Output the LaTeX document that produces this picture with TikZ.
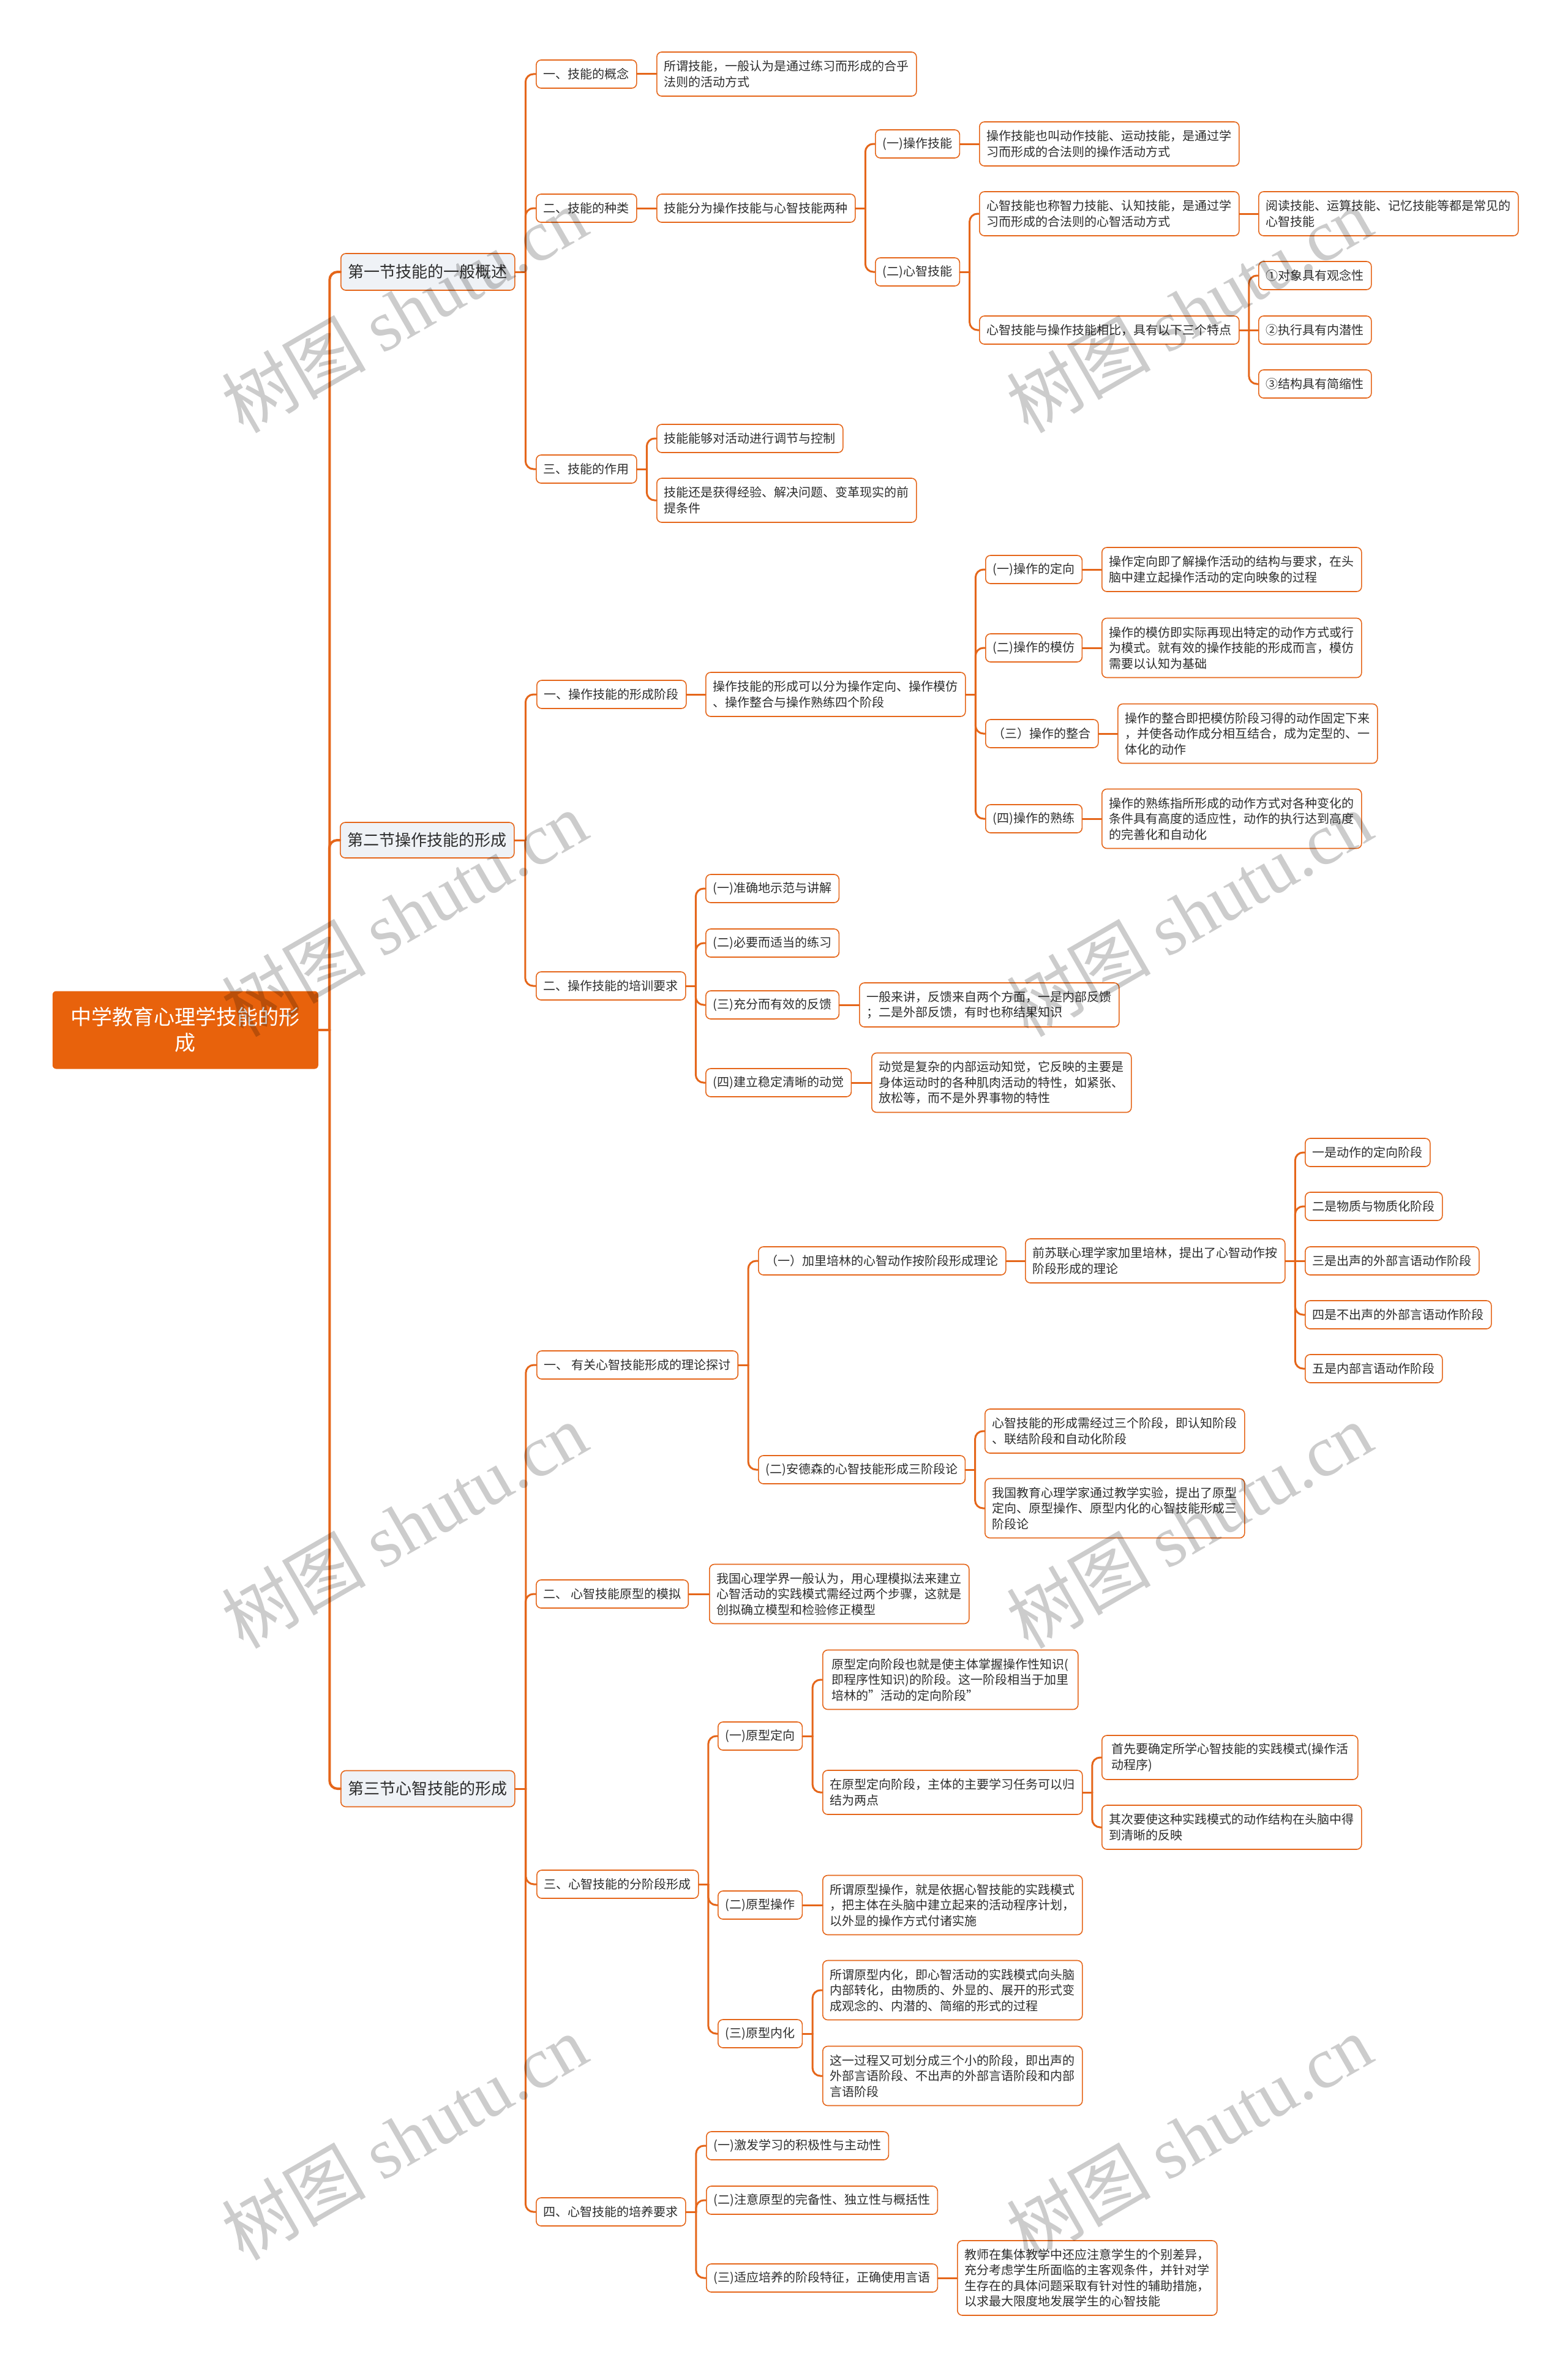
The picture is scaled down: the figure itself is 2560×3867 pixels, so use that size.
\documentclass[tikz,border=0pt]{standalone}
\usepackage{fontspec}
\setmainfont{Noto Sans CJK SC}
\newfontfamily\wmlatin{Liberation Serif}
\usetikzlibrary{calc}
\definecolor{org}{RGB}{229,102,26}
\definecolor{secfill}{RGB}{239,242,246}
\definecolor{rootfill}{RGB}{232,98,12}
\definecolor{txt}{RGB}{45,45,45}
\tikzset{
 box/.style={draw=org, line width=1.6pt, rounded corners=8pt, fill=white, anchor=west, align=left, inner xsep=12pt, inner ysep=0pt, text=txt, font=\fontsize{20}{25.5}\selectfont},
 secbox/.style={box, fill=secfill, font=\fontsize{26}{32}\selectfont},
 rootbox/.style={box, draw=none, fill=rootfill, text=white, align=center, rounded corners=6pt, font=\fontsize{34}{42}\selectfont},
 conn/.style={draw=org, line width=3pt, line cap=round},
 trunk/.style={conn, line width=4pt},
 wm/.style={text=black, text opacity=0.2, font=\fontsize{118}{120}\selectfont, rotate=30, inner sep=0pt}
}
\newcommand\bx[7][box]{\node[#1, minimum width=#5pt, minimum height=#6pt] (#2) at (#3,#4) {#7};}
% branching connector: stub, vertical, rounded corner into child
\newcommand\lnk[3][conn]{%
 \path ($(#2.east)!.5!(#3.west)$) coordinate (m);
 \draw[#1] (#2.east) -- (#2.east -| m);
 \draw[#1, rounded corners=13pt] (#2.east -| m) |- (#3.west);}
% straight connector (same height)
\newcommand\st[3][conn]{\draw[#1] (#2.east) -- (#3.west);}
\begin{document}
\begin{tikzpicture}[x=1pt,y=-1pt]
\useasboundingbox (0,0) rectangle (2560,3867);
\fill[white] (0,0) rectangle (2560,3867);

% root and sections
\bx[rootbox]{root}{85}{1682}{434}{127}{中学教育心理学技能的形\\成}
\bx[secbox]{s1}{556}{444}{282}{60}{第一节技能的一般概述}
\bx[secbox]{s2}{555}{1372}{283}{58}{第二节操作技能的形成}
\bx[secbox]{s3}{556}{2921}{282}{59}{第三节心智技能的形成}

% section 1
\bx{a1}{875}{121}{159}{46}{一、技能的概念}
\bx{a1t}{1072}{121}{419}{72}{所谓技能，一般认为是通过练习而形成的合乎\\法则的活动方式}
\bx{a2}{875}{340}{159}{46}{二、技能的种类}
\bx{a2t}{1072}{340}{319}{46}{技能分为操作技能与心智技能两种}
\bx{b1}{1429}{235}{132}{46}{(一)操作技能}
\bx{b1t}{1599}{235}{417}{72}{操作技能也叫动作技能、运动技能，是通过学\\习而形成的合法则的操作活动方式}
\bx{b2}{1429}{444}{132}{46}{(二)心智技能}
\bx{b2a}{1599}{349}{417}{72}{心智技能也称智力技能、认知技能，是通过学\\习而形成的合法则的心智活动方式}
\bx{b2aa}{2055}{349}{418}{72}{阅读技能、运算技能、记忆技能等都是常见的\\心智技能}
\bx{b2b}{1599}{539}{417}{46}{心智技能与操作技能相比，具有以下三个特点}
\bx{c1}{2055}{450}{179}{46}{①对象具有观念性}
\bx{c2}{2055}{539}{179}{46}{②执行具有内潜性}
\bx{c3}{2055}{627}{179}{46}{③结构具有简缩性}
\bx{a3}{875}{766}{159}{46}{三、技能的作用}
\bx{a3a}{1072}{716}{299}{46}{技能能够对活动进行调节与控制}
\bx{a3b}{1072}{817}{419}{72}{技能还是获得经验、解决问题、变革现实的前\\提条件}

% section 2
\bx{d1}{876}{1134}{238}{46}{一、操作技能的形成阶段}
\bx{d1t}{1152}{1134}{418}{72}{操作技能的形成可以分为操作定向、操作模仿\\、操作整合与操作熟练四个阶段}
\bx{e1}{1609}{930}{151}{46}{(一)操作的定向}
\bx{e1t}{1799}{930}{418}{72}{操作定向即了解操作活动的结构与要求，在头\\脑中建立起操作活动的定向映象的过程}
\bx{e2}{1609}{1058}{151}{46}{(二)操作的模仿}
\bx{e2t}{1799}{1058}{418}{97}{操作的模仿即实际再现出特定的动作方式或行\\为模式。就有效的操作技能的形成而言，模仿\\需要以认知为基础}
\bx{e3}{1609}{1198}{177}{46}{（三）操作的整合}
\bx{e3t}{1825}{1198}{419}{97}{操作的整合即把模仿阶段习得的动作固定下来\\，并使各动作成分相互结合，成为定型的、一\\体化的动作}
\bx{e4}{1609}{1337}{151}{46}{(四)操作的熟练}
\bx{e4t}{1799}{1337}{418}{97}{操作的熟练指所形成的动作方式对各种变化的\\条件具有高度的适应性，动作的执行达到高度\\的完善化和自动化}
\bx{d2}{875}{1610}{239}{46}{二、操作技能的培训要求}
\bx{f1}{1152}{1451}{211}{46}{(一)准确地示范与讲解}
\bx{f2}{1152}{1540}{211}{46}{(二)必要而适当的练习}
\bx{f3}{1152}{1641}{211}{46}{(三)充分而有效的反馈}
\bx{f3t}{1403}{1641}{416}{72}{一般来讲，反馈来自两个方面，一是内部反馈\\；二是外部反馈，有时也称结果知识}
\bx{f4}{1152}{1768}{231}{46}{(四)建立稳定清晰的动觉}
\bx{f4t}{1423}{1768}{417}{97}{动觉是复杂的内部运动知觉，它反映的主要是\\身体运动时的各种肌肉活动的特性，如紧张、\\放松等，而不是外界事物的特性}

% section 3
\bx{g1}{876}{2229}{327}{46}{一、 有关心智技能形成的理论探讨}
\bx{h1}{1238}{2059}{398}{46}{（一）加里培林的心智动作按阶段形成理论}
\bx{h1t}{1674}{2059}{418}{72}{前苏联心理学家加里培林，提出了心智动作按\\阶段形成的理论}
\bx{i1}{2131}{1882}{199}{46}{一是动作的定向阶段}
\bx{i2}{2131}{1970}{219}{46}{二是物质与物质化阶段}
\bx{i3}{2131}{2059}{279}{46}{三是出声的外部言语动作阶段}
\bx{i4}{2131}{2147}{299}{46}{四是不出声的外部言语动作阶段}
\bx{i5}{2131}{2235}{219}{46}{五是内部言语动作阶段}
\bx{h2}{1238}{2400}{332}{46}{(二)安德森的心智技能形成三阶段论}
\bx{h2a}{1608}{2337}{418}{72}{心智技能的形成需经过三个阶段，即认知阶段\\、联结阶段和自动化阶段}
\bx{h2b}{1608}{2463}{418}{97}{我国教育心理学家通过教学实验，提出了原型\\定向、原型操作、原型内化的心智技能形成三\\阶段论}
\bx{g2}{875}{2603}{245}{46}{二、 心智技能原型的模拟}
\bx{g2t}{1158}{2603}{419}{97}{我国心理学界一般认为，用心理模拟法来建立\\心智活动的实践模式需经过两个步骤，这就是\\创拟确立模型和检验修正模型}
\bx{g3}{876}{3077}{258}{46}{三、心智技能的分阶段形成}
\bx{j1}{1172}{2835}{132}{46}{(一)原型定向}
\bx{j1a}{1343}{2743}{417}{97}{原型定向阶段也就是使主体掌握操作性知识(\\即程序性知识)的阶段。这一阶段相当于加里\\培林的"活动的定向阶段"}
\bx{j1b}{1343}{2927}{417}{72}{在原型定向阶段，主体的主要学习任务可以归\\结为两点}
\bx{j1ba}{1799}{2870}{418}{72}{首先要确定所学心智技能的实践模式(操作活\\动程序)}
\bx{j1bb}{1799}{2984}{418}{72}{其次要使这种实践模式的动作结构在头脑中得\\到清晰的反映}
\bx{j2}{1172}{3111}{132}{46}{(二)原型操作}
\bx{j2t}{1343}{3111}{417}{97}{所谓原型操作，就是依据心智技能的实践模式\\，把主体在头脑中建立起来的活动程序计划，\\以外显的操作方式付诸实施}
\bx{j3}{1172}{3321}{132}{46}{(三)原型内化}
\bx{j3a}{1343}{3250}{417}{97}{所谓原型内化，即心智活动的实践模式向头脑\\内部转化，由物质的、外显的、展开的形式变\\成观念的、内潜的、简缩的形式的过程}
\bx{j3b}{1343}{3390}{417}{97}{这一过程又可划分成三个小的阶段，即出声的\\外部言语阶段、不出声的外部言语阶段和内部\\言语阶段}
\bx{g4}{875}{3612}{239}{46}{四、心智技能的培养要求}
\bx{k1}{1153}{3504}{290}{46}{(一)激发学习的积极性与主动性}
\bx{k2}{1153}{3593}{370}{46}{(二)注意原型的完备性、独立性与概括性}
\bx{k3}{1153}{3720}{370}{46}{(三)适应培养的阶段特征，正确使用言语}
\bx{k3t}{1563}{3720}{417}{122}{教师在集体教学中还应注意学生的个别差异，\\充分考虑学生所面临的主客观条件，并针对学\\生存在的具体问题采取有针对性的辅助措施，\\以求最大限度地发展学生的心智技能}

% connectors
\lnk[trunk]{root}{s1}\lnk[trunk]{root}{s2}\lnk[trunk]{root}{s3}
\lnk{s1}{a1}\lnk{s1}{a2}\lnk{s1}{a3}
\st{a1}{a1t}\st{a2}{a2t}
\lnk{a2t}{b1}\lnk{a2t}{b2}
\st{b1}{b1t}\lnk{b2}{b2a}\lnk{b2}{b2b}
\st{b2a}{b2aa}
\lnk{b2b}{c1}\st{b2b}{c2}\lnk{b2b}{c3}
\lnk{a3}{a3a}\lnk{a3}{a3b}
\lnk{s2}{d1}\lnk{s2}{d2}
\st{d1}{d1t}
\lnk{d1t}{e1}\lnk{d1t}{e2}\lnk{d1t}{e3}\lnk{d1t}{e4}
\st{e1}{e1t}\st{e2}{e2t}\st{e3}{e3t}\st{e4}{e4t}
\lnk{d2}{f1}\lnk{d2}{f2}\lnk{d2}{f3}\lnk{d2}{f4}
\st{f3}{f3t}\st{f4}{f4t}
\lnk{s3}{g1}\lnk{s3}{g2}\lnk{s3}{g3}\lnk{s3}{g4}
\lnk{g1}{h1}\lnk{g1}{h2}
\st{h1}{h1t}
\lnk{h1t}{i1}\lnk{h1t}{i2}\st{h1t}{i3}\lnk{h1t}{i4}\lnk{h1t}{i5}
\lnk{h2}{h2a}\lnk{h2}{h2b}
\st{g2}{g2t}
\lnk{g3}{j1}\lnk{g3}{j2}\lnk{g3}{j3}
\lnk{j1}{j1a}\lnk{j1}{j1b}
\lnk{j1b}{j1ba}\lnk{j1b}{j1bb}
\st{j2}{j2t}
\lnk{j3}{j3a}\lnk{j3}{j3b}
\lnk{g4}{k1}\lnk{g4}{k2}\lnk{g4}{k3}
\st{k3}{k3t}

% watermark
\foreach \wx/\wy [count=\wi] in {660/506,1942/506,660/1492,1942/1492,660/2491,1942/2491,660/3490,1942/3490}
 \node[wm] (wm\wi) at (\wx,\wy) {树图 {\wmlatin shutu.cn}};
\end{tikzpicture}
\end{document}
